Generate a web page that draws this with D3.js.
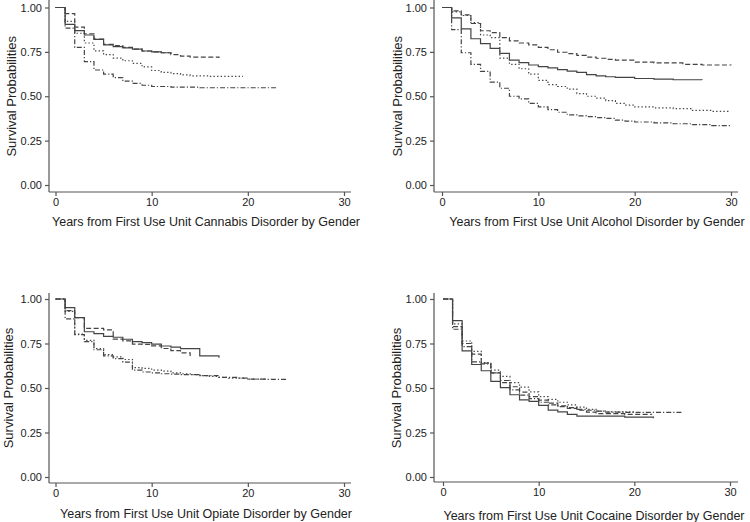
<!DOCTYPE html>
<html>
<head>
<meta charset="utf-8">
<script src="https://cdn.jsdelivr.net/npm/d3@7"></script>
<style>
html,body{margin:0;padding:0;background:#fff;}
svg{display:block;font-family:"Liberation Sans",Arial,sans-serif;}
</style>
</head>
<body>
<svg id="chart" width="750" height="522"></svg>
<script>
// ---- data: [years, survival probability] step points; last point = end of follow-up
const xTicks = [0, 10, 20, 30];
const yTicks = [0, 0.25, 0.5, 0.75, 1];
const yTickLabels = ["0.00", "0.25", "0.50", "0.75", "1.00"];
const yTitle = "Survival Probabilities";
const panelTitles = [
  "Years from First Use Unit Cannabis Disorder by Gender",
  "Years from First Use Unit Alcohol Disorder by Gender",
  "Years from First Use Unit Opiate Disorder by Gender",
  "Years from First Use Unit Cocaine Disorder by Gender"
];

const cannabisSolid = [[0,1],[1,0.905],[2,0.87],[3,0.845],[4,0.82],[5,0.79],[6,0.78],[7,0.772],[8,0.765],[9,0.755],[10,0.75],[11,0.745],[12,0.74]];
const cannabisDashed = [[0,1],[1,0.965],[2,0.89],[3,0.852],[4,0.822],[5,0.792],[6,0.785],[7,0.775],[8,0.765],[9,0.755],[10,0.75],[11,0.745],[12,0.735],[13,0.726],[14,0.72],[17,0.716]];
const cannabisDotted = [[0,1],[1,0.922],[2,0.855],[3,0.80],[4,0.756],[5,0.735],[6,0.715],[7,0.70],[8,0.685],[9,0.665],[10,0.645],[11,0.635],[12,0.628],[13,0.62],[14,0.615],[16,0.612],[19.5,0.612]];
const cannabisDashDot = [[0,1],[1,0.884],[2,0.775],[3,0.695],[4,0.648],[5,0.625],[6,0.605],[7,0.585],[8,0.572],[9,0.562],[10,0.555],[12,0.551],[15,0.548],[23,0.546]];

const alcoholSolid = [[0,1],[1,0.942],[2,0.88],[3,0.824],[4,0.797],[5,0.77],[6,0.742],[7,0.704],[8,0.69],[9,0.676],[10,0.667],[11,0.66],[12,0.65],[13,0.642],[14,0.635],[15,0.622],[16,0.615],[17,0.61],[18,0.606],[20,0.60],[22,0.596],[24,0.593],[27,0.592]];
const alcoholDashed = [[0,1],[1,0.981],[2,0.959],[3,0.91],[4,0.869],[5,0.858],[6,0.83],[7,0.812],[8,0.80],[9,0.79],[10,0.775],[11,0.762],[12,0.748],[13,0.74],[14,0.73],[15,0.72],[16,0.714],[17,0.708],[18,0.703],[20,0.692],[22,0.688],[25,0.68],[27,0.676],[30,0.675]];
const alcoholDotted = [[0,1],[1,0.975],[2,0.955],[3,0.915],[4,0.845],[5,0.83],[6,0.715],[7,0.68],[8,0.655],[9,0.625],[10,0.59],[11,0.565],[12,0.555],[13,0.54],[14,0.515],[15,0.50],[16,0.49],[17,0.475],[18,0.46],[19,0.45],[20,0.44],[22,0.435],[24,0.43],[26,0.42],[28,0.415],[29.7,0.412]];
const alcoholDashDot = [[0,1],[1,0.875],[2,0.745],[3,0.68],[4,0.64],[5,0.58],[6,0.545],[7,0.50],[8,0.485],[9,0.46],[10,0.44],[11,0.425],[12,0.41],[13,0.395],[14,0.39],[15,0.385],[16,0.38],[17,0.375],[18,0.365],[19,0.36],[20,0.355],[22,0.35],[24,0.345],[26,0.34],[28,0.335],[30,0.33]];

const opiateSolid = [[0,1],[1,0.951],[2,0.895],[3,0.816],[4,0.805],[5,0.79],[6,0.785],[7,0.774],[8,0.76],[9,0.755],[10,0.746],[11,0.736],[12,0.73],[13,0.721],[15,0.68],[17,0.67]];
const opiateDashed = [[0,1],[1,0.935],[2,0.895],[3,0.835],[5,0.826],[6,0.775],[7,0.765],[8,0.747],[9,0.745],[10,0.737],[11,0.722],[12,0.71],[13,0.697],[14,0.68]];
const opiateDotted = [[0,1],[1,0.93],[2,0.803],[3,0.768],[4,0.722],[5,0.688],[6,0.675],[7,0.66],[8,0.615],[9,0.61],[10,0.60],[11,0.595],[12,0.585],[13,0.58],[14,0.575],[15,0.57],[16,0.565],[17,0.56],[18,0.555],[20,0.55],[22,0.55]];
const opiateDashDot = [[0,1],[1,0.888],[2,0.80],[3,0.76],[4,0.715],[5,0.68],[6,0.665],[7,0.645],[8,0.60],[9,0.59],[10,0.585],[11,0.58],[12,0.578],[13,0.575],[15,0.57],[17,0.56],[19,0.555],[20,0.55],[22,0.548],[24,0.545]];

const cocaineSolid = [[0,1],[1,0.878],[2,0.709],[3,0.632],[4,0.597],[5,0.537],[6,0.502],[7,0.462],[8,0.433],[9,0.425],[10,0.402],[11,0.376],[12,0.366],[13,0.352],[14,0.342],[19,0.336],[22,0.33]];
const cocaineDashed = [[0,1],[1,0.845],[2,0.75],[3,0.69],[4,0.64],[5,0.585],[6,0.542],[7,0.507],[8,0.477],[9,0.452],[10,0.432],[11,0.415],[12,0.40],[13,0.386],[14,0.375],[15,0.365],[16,0.356],[19,0.352],[21.8,0.35]];
const cocaineDotted = [[0,1],[1,0.86],[2,0.764],[3,0.706],[4,0.642],[5,0.60],[6,0.565],[7,0.53],[8,0.505],[9,0.478],[10,0.452],[11,0.436],[12,0.42],[13,0.405],[14,0.392],[15,0.38],[16,0.37],[17,0.366],[20,0.364]];
const cocaineDashDot = [[0,1],[1,0.83],[2,0.732],[3,0.647],[4,0.635],[5,0.585],[6,0.53],[7,0.49],[8,0.46],[9,0.44],[10,0.42],[11,0.405],[12,0.395],[13,0.39],[14,0.38],[15,0.375],[16,0.37],[17,0.365],[19,0.363],[25,0.362]];

const styles = ["solid", "dashed", "dotted", "dashdot"];
const dashArrays = {solid: null, dashed: "5,2.5", dotted: "1.4,2.2", dashdot: "5,2,1.2,2"};

// ---- layout
const panels = [
  {title: panelTitles[0], series: [cannabisSolid, cannabisDashed, cannabisDotted, cannabisDashDot],
   yAxisX: 49, x0: 55.5, x1: 344, y0: 185, y1: 7.5, axisTop: 0, axisBottom: 192, axisRight: 351, titleX: 206, titleY: 225.5, yTitleX: 15.5},
  {title: panelTitles[1], series: [alcoholSolid, alcoholDashed, alcoholDotted, alcoholDashDot],
   yAxisX: 434, x0: 442, x1: 731, y0: 185, y1: 7.5, axisTop: 0, axisBottom: 192, axisRight: 738, titleX: 597, titleY: 225.5, yTitleX: 401.5},
  {title: panelTitles[2], series: [opiateSolid, opiateDashed, opiateDotted, opiateDashDot],
   yAxisX: 49, x0: 55.5, x1: 344, y0: 477, y1: 299, axisTop: 293, axisBottom: 483, axisRight: 351, titleX: 206, titleY: 518, yTitleX: 12.5},
  {title: panelTitles[3], series: [cocaineSolid, cocaineDashed, cocaineDotted, cocaineDashDot],
   yAxisX: 434, x0: 443, x1: 730, y0: 477, y1: 299, axisTop: 293, axisBottom: 482, axisRight: 738, titleX: 594, titleY: 519.5, yTitleX: 400.5}
];

const svg = d3.select("#chart");
const axisColor = "#555";
const textColor = "#222";
const curveColor = "#444";

panels.forEach(p => {
  const x = d3.scaleLinear().domain([0, 30]).range([p.x0, p.x1]);
  const y = d3.scaleLinear().domain([0, 1]).range([p.y0, p.y1]);
  const g = svg.append("g");

  // y axis
  const yAxis = d3.axisLeft(y).tickValues(yTicks).tickFormat((d, i) => yTickLabels[i]).tickSize(4).tickPadding(3);
  const ya = g.append("g").attr("transform", `translate(${p.yAxisX},0)`).call(yAxis);
  ya.select(".domain").remove();
  ya.append("line").attr("x1", 0).attr("x2", 0).attr("y1", p.axisTop).attr("y2", p.axisBottom);
  // x axis
  const xAxis = d3.axisBottom(x).tickValues(xTicks).tickFormat(d3.format("d")).tickSize(4).tickPadding(2);
  const xa = g.append("g").attr("transform", `translate(0,${p.axisBottom})`).call(xAxis);
  xa.select(".domain").remove();
  xa.append("line").attr("x1", p.yAxisX).attr("x2", p.axisRight).attr("y1", 0).attr("y2", 0);

  [ya, xa].forEach(a => {
    a.selectAll("line").attr("stroke", axisColor).attr("stroke-width", 1.2);
    a.selectAll("text").attr("fill", textColor).attr("font-size", 11).attr("font-family", "Liberation Sans, Arial, sans-serif");
  });

  // titles
  g.append("text").attr("x", p.titleX).attr("y", p.titleY).attr("text-anchor", "middle")
    .attr("font-size", 12.5).attr("fill", textColor).text(p.title);
  g.append("text").attr("transform", `translate(${p.yTitleX},${(p.y0 + p.y1) / 2}) rotate(-90)`)
    .attr("text-anchor", "middle").attr("font-size", 13).attr("fill", textColor).text(yTitle);

  // curves
  const line = d3.line().x(d => x(d[0])).y(d => y(d[1])).curve(d3.curveStepAfter);
  p.series.forEach((s, i) => {
    const st = styles[i];
    g.append("path").attr("d", line(s)).attr("fill", "none")
      .attr("stroke", curveColor).attr("stroke-width", 1.2)
      .attr("stroke-dasharray", dashArrays[st]);
  });
});
</script>
</body>
</html>
